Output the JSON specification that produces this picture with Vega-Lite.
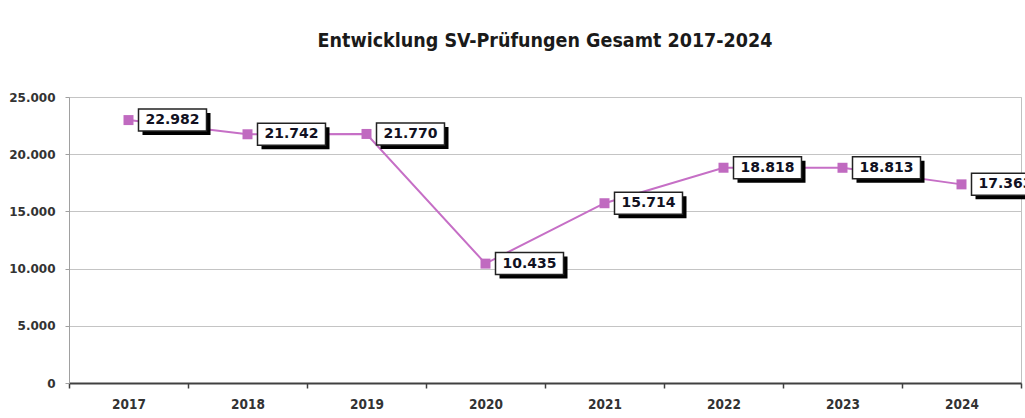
{
  "$schema": "https://vega.github.io/schema/vega-lite/v6.json",
  "autosize": "none",
  "width": 952,
  "height": 286,
  "padding": {"left": 69, "top": 97, "right": 4, "bottom": 35},
  "background": "white",
  "config": {
    "locale": {"number": {"decimal": ",", "thousands": ".", "grouping": [3], "currency": ["", " €"]}},
    "view": {"stroke": "#c0c0c0", "strokeWidth": 1},
    "font": "DejaVu Sans"
  },
  "title": {
    "text": "Entwicklung SV-Prüfungen Gesamt 2017-2024",
    "font": "DejaVu Sans Condensed",
    "fontSize": 19.5,
    "fontWeight": "bold",
    "color": "#1a1a1a",
    "anchor": "middle",
    "offset": 40
  },
  "data": {
    "values": [
      {"year": "2017", "value": 22982},
      {"year": "2018", "value": 21742},
      {"year": "2019", "value": 21770},
      {"year": "2020", "value": 10435},
      {"year": "2021", "value": 15714},
      {"year": "2022", "value": 18818},
      {"year": "2023", "value": 18813},
      {"year": "2024", "value": 17363}
    ]
  },
  "encoding": {
    "x": {
      "field": "year",
      "type": "ordinal",
      "scale": {"paddingInner": 0, "paddingOuter": 0},
      "axis": {
        "title": null,
        "labelAngle": 0,
        "labelFont": "DejaVu Sans Condensed",
        "labelFontWeight": "bold",
        "labelFontSize": 13.5,
        "labelColor": "#333333",
        "labelPadding": 9,
        "domainColor": "#404040",
        "domainWidth": 2,
        "tickColor": "#404040",
        "tickSize": 5,
        "tickWidth": 1.5,
        "tickBand": "extent",
        "grid": false
      }
    },
    "y": {
      "field": "value",
      "type": "quantitative",
      "scale": {"domain": [0, 25000], "nice": false},
      "axis": {
        "title": null,
        "values": [0, 5000, 10000, 15000, 20000, 25000],
        "format": ",d",
        "labelFont": "DejaVu Sans",
        "labelFontWeight": "bold",
        "labelFontSize": 12,
        "labelColor": "#333333",
        "labelPadding": 10,
        "domainColor": "#a0a0a0",
        "tickColor": "#a0a0a0",
        "tickSize": 4,
        "gridColor": "#c4c4c4",
        "gridWidth": 1
      }
    }
  },
  "layer": [
    {"mark": {"type": "line", "color": "#c66fc6", "strokeWidth": 2}},
    {"mark": {"type": "point", "shape": "square", "filled": true, "size": 100, "color": "#c06ac0", "opacity": 1}},
    {"mark": {"type": "point", "shape": "M1.4,-0.7H8.2V1.5H1.4Z", "size": 400, "filled": true, "color": "#000000", "opacity": 1}},
    {"mark": {"type": "point", "shape": "M1.0,-1.1H7.8V1.1H1.0Z", "size": 400, "filled": true, "fill": "#ffffff", "stroke": "#222222", "strokeWidth": 1.5, "opacity": 1, "fillOpacity": 1}},
    {
      "mark": {"type": "text", "dx": 44, "align": "center", "baseline": "middle", "font": "DejaVu Sans", "fontWeight": "bold", "fontSize": 14, "color": "#111122"},
      "encoding": {"text": {"field": "value", "type": "quantitative", "format": ",d"}}
    }
  ]
}
